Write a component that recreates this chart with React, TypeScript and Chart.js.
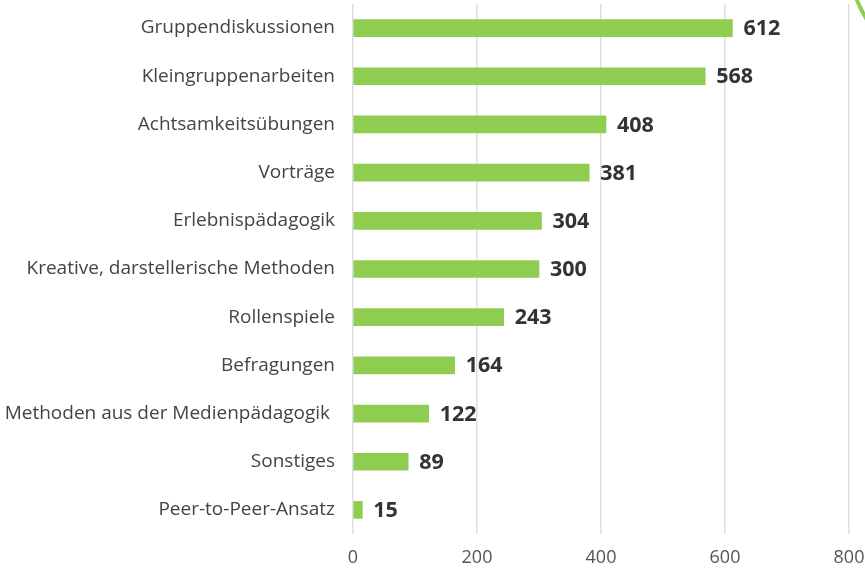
import React, { useEffect, useRef } from "react";
import { Chart, registerables } from "chart.js";

Chart.register(...registerables);

const categories = [
  "Gruppendiskussionen",
  "Kleingruppenarbeiten",
  "Achtsamkeitsübungen",
  "Vorträge",
  "Erlebnispädagogik",
  "Kreative, darstellerische Methoden",
  "Rollenspiele",
  "Befragungen",
  "Methoden aus der Medienpädagogik ",
  "Sonstiges",
  "Peer-to-Peer-Ansatz",
];
const values = [612, 568, 408, 381, 304, 300, 243, 164, 122, 89, 15];
const xTicks = [0, 200, 400, 600, 800];

const FONT = "'Open Sans', 'DejaVu Sans', sans-serif";

const valueLabels = {
  id: "valueLabels",
  afterDatasetsDraw(chart: any) {
    const ctx = chart.ctx;
    const meta = chart.getDatasetMeta(0);
    ctx.save();
    ctx.font = `bold 21.5px ${FONT}`;
    ctx.fillStyle = "#333333";
    ctx.textAlign = "left";
    ctx.textBaseline = "middle";
    meta.data.forEach((el: any, i: number) => {
      ctx.fillText(String(values[i]), el.x + 11, el.y + 1);
    });
    ctx.restore();
  },
};

const cornerDeco = {
  id: "cornerDeco",
  afterDraw(chart: any) {
    const ctx = chart.ctx;
    const w = chart.width;
    ctx.save();
    ctx.strokeStyle = "#8fcd50";
    ctx.lineWidth = 4;
    ctx.beginPath();
    ctx.moveTo(w - 9, -2);
    ctx.quadraticCurveTo(w - 4, 10, w + 2, 20);
    ctx.stroke();
    ctx.restore();
  },
};

export default function App() {
  const ref = useRef<HTMLCanvasElement | null>(null);
  useEffect(() => {
    if (!ref.current) return;
    const chart = new Chart(ref.current, {
      type: "bar",
      data: {
        labels: categories,
        datasets: [
          {
            data: values,
            backgroundColor: "#8fcd50",
            barThickness: 17,
            borderWidth: 0,
          },
        ],
      },
      options: {
        indexAxis: "y",
        animation: false,
        responsive: false,
        maintainAspectRatio: false,
        layout: { padding: { top: 4, right: 16, left: 0, bottom: 0 } },
        plugins: { legend: { display: false }, tooltip: { enabled: false } },
        scales: {
          x: {
            min: 0,
            max: 800,
            afterBuildTicks: (axis: any) => {
              axis.ticks = xTicks.map((v) => ({ value: v }));
            },
            afterFit: (axis: any) => {
              axis.height = 34;
              axis.paddingLeft = 0;
              axis.paddingRight = 0;
            },
            grid: { color: "#dddddd", lineWidth: 1.5, drawTicks: false },
            border: { display: false },
            ticks: {
              color: "#555555",
              font: { family: FONT, size: 18 },
              padding: 13,
            },
          },
          y: {
            afterFit: (axis: any) => {
              axis.width = 353;
              axis.paddingTop = 0;
              axis.paddingBottom = 0;
            },
            grid: { display: false, drawTicks: false },
            border: { display: false },
            ticks: {
              color: "#444444",
              font: { family: FONT, size: 19 },
              padding: 18,
            },
          },
        },
      },
      plugins: [valueLabels, cornerDeco],
    });
    return () => chart.destroy();
  }, []);
  return (
    <div style={{ position: "fixed", left: 0, top: 0, width: 865, height: 568, background: "#fff" }}>
      <canvas ref={ref} width={865} height={568} style={{ width: 865, height: 568 }} />
    </div>
  );
}
